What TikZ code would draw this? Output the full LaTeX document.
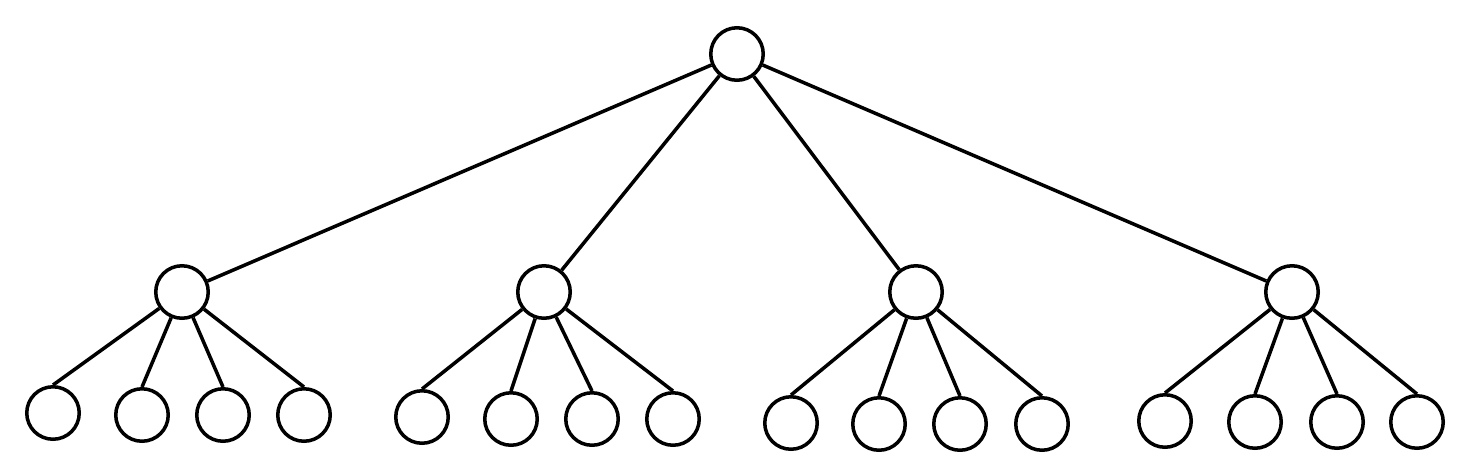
\documentclass[tikz,border=0pt]{standalone}
\begin{document}
\begin{tikzpicture}[x=0.02cm,y=-0.02cm,vertex/.style={draw=black,circle,line width=2pt,inner sep=0pt,minimum size=1.05cm},edge/.style={line width=2pt}]
\useasboundingbox (0,0) rectangle (1464,468);
\node[vertex] (r) at (737,54) {};
\node[vertex] (a) at (182,292) {};
\node[vertex] (b) at (544,292) {};
\node[vertex] (c) at (916,292) {};
\node[vertex] (d) at (1292,292) {};
\node[vertex] (a1) at (53,413) {};
\node[vertex] (a2) at (142,415) {};
\node[vertex] (a3) at (223,415) {};
\node[vertex] (a4) at (304,415) {};
\node[vertex] (b1) at (422,417) {};
\node[vertex] (b2) at (511,419) {};
\node[vertex] (b3) at (592,419) {};
\node[vertex] (b4) at (673,419) {};
\node[vertex] (c1) at (791,423) {};
\node[vertex] (c2) at (879,424) {};
\node[vertex] (c3) at (960,424) {};
\node[vertex] (c4) at (1042,424) {};
\node[vertex] (d1) at (1165,421) {};
\node[vertex] (d2) at (1255,422) {};
\node[vertex] (d3) at (1337,422) {};
\node[vertex] (d4) at (1417,422) {};
\draw[edge] (r) -- (a);
\draw[edge] (r) -- (b);
\draw[edge] (r) -- (c);
\draw[edge] (r) -- (d);
\draw[edge] (a) -- (a1.north);
\draw[edge] (a) -- (a2.north);
\draw[edge] (a) -- (a3.north);
\draw[edge] (a) -- (a4.north);
\draw[edge] (b) -- (b1.north);
\draw[edge] (b) -- (b2.north);
\draw[edge] (b) -- (b3.north);
\draw[edge] (b) -- (b4.north);
\draw[edge] (c) -- (c1.north);
\draw[edge] (c) -- (c2.north);
\draw[edge] (c) -- (c3.north);
\draw[edge] (c) -- (c4.north);
\draw[edge] (d) -- (d1.north);
\draw[edge] (d) -- (d2.north);
\draw[edge] (d) -- (d3.north);
\draw[edge] (d) -- (d4.north);
\end{tikzpicture}
\end{document}
